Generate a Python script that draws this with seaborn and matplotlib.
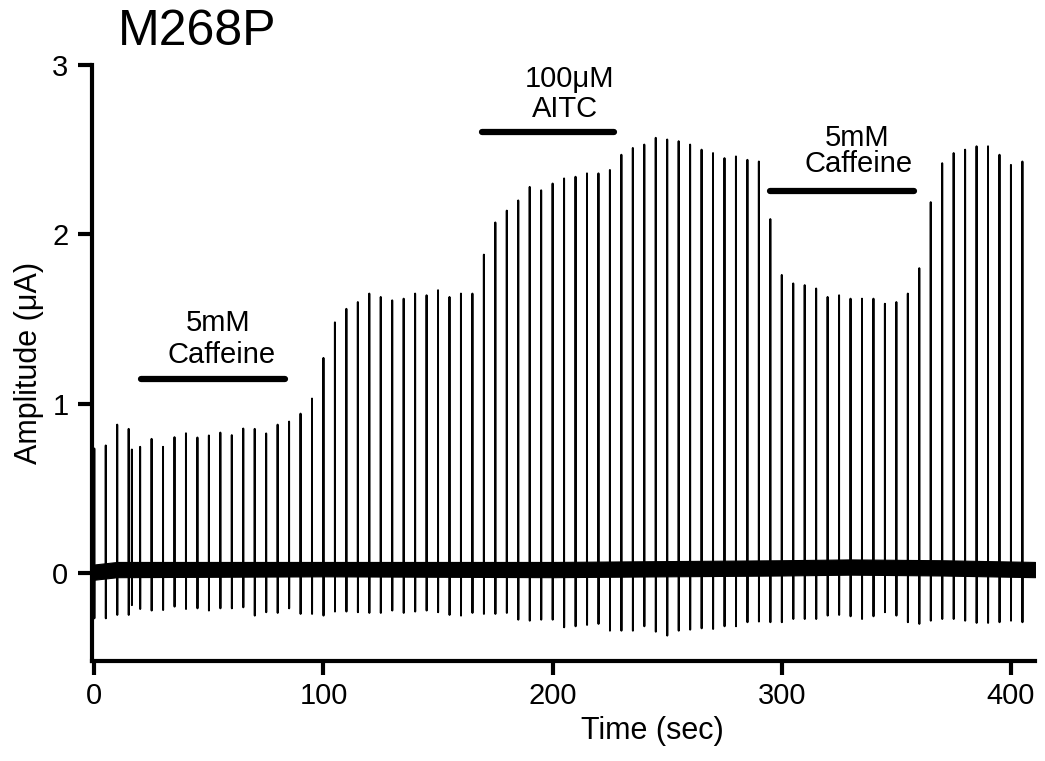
import numpy as np
import pandas as pd
import matplotlib
matplotlib.use("Agg")
import matplotlib.pyplot as plt
import seaborn as sns

# ---------------- data ----------------
spike_times = list(range(0, 410, 5))          # stimulus every 5 s
spike_peaks = [0.735, 0.753, 0.876, 0.851, 0.745, 0.792, 0.745, 0.802, 0.825, 0.800,
               0.812, 0.829, 0.814, 0.853, 0.851, 0.824, 0.876, 0.894, 0.941, 1.03,
               1.27, 1.48, 1.56, 1.60, 1.65, 1.63, 1.61, 1.62, 1.65, 1.64,
               1.67, 1.63, 1.65, 1.65, 1.88, 2.07, 2.14, 2.20, 2.28, 2.26,
               2.30, 2.33, 2.34, 2.36, 2.36, 2.38, 2.47, 2.51, 2.53, 2.57,
               2.56, 2.55, 2.53, 2.50, 2.48, 2.45, 2.46, 2.44, 2.43, 2.09,
               1.76, 1.71, 1.70, 1.68, 1.63, 1.64, 1.62, 1.62, 1.62, 1.59,
               1.60, 1.65, 1.80, 2.19, 2.42, 2.48, 2.50, 2.52, 2.52, 2.47,
               2.41, 2.43]
spike_troughs = [-0.268, -0.268, -0.248, -0.248, -0.213, -0.222, -0.219, -0.199, -0.213, -0.209,
                 -0.222, -0.209, -0.209, -0.203, -0.252, -0.232, -0.236, -0.209, -0.242, -0.242,
                 -0.252, -0.228, -0.228, -0.232, -0.236, -0.236, -0.222, -0.236, -0.228, -0.222,
                 -0.232, -0.248, -0.252, -0.236, -0.242, -0.242, -0.236, -0.276, -0.282, -0.276,
                 -0.276, -0.321, -0.315, -0.307, -0.301, -0.341, -0.341, -0.341, -0.315, -0.347,
                 -0.370, -0.341, -0.335, -0.327, -0.331, -0.315, -0.315, -0.291, -0.287, -0.291,
                 -0.291, -0.272, -0.272, -0.272, -0.252, -0.248, -0.256, -0.272, -0.256, -0.232,
                 -0.252, -0.291, -0.301, -0.282, -0.272, -0.272, -0.282, -0.295, -0.295, -0.291,
                 -0.282, -0.291]
extra_time = [16.4]
extra_peak = [0.729]
extra_trough = [-0.19]

# baseline noise band (edges read at a few times)
band_times = [0, 10, 100, 200, 300, 330, 370, 410.5]
band_top = [0.05, 0.065, 0.065, 0.065, 0.075, 0.08, 0.075, 0.065]
band_bottom = [-0.04, -0.025, -0.02, -0.025, -0.015, -0.01, -0.015, -0.025]

# drug application bars
bar_start = [20.5, 169.3, 294.8]
bar_end = [83.3, 226.6, 357.6]
bar_level = [1.146, 2.607, 2.255]
label_line1 = ["5mM", "100\u03bcM", "5mM"]
label_line2 = ["Caffeine", "AITC", "Caffeine"]
label_x1 = [54.0, 207.4, 333.0]
label_x2 = [55.5, 205.2, 333.6]
label_y1 = [1.431, 2.869, 2.524]
label_y2 = [1.240, 2.692, 2.367]

x_ticks = [0, 100, 200, 300, 400]
y_ticks = [0, 1, 2, 3]

# ---------------- build the trace ----------------
rows = []
all_t = spike_times + extra_time
all_p = spike_peaks + extra_peak
all_n = spike_troughs + extra_trough
order = np.argsort(all_t)
rows.append((-0.5, 0.02))
for i in order:
    t, p, n = all_t[i], all_p[i], all_n[i]
    rows += [(t - 0.02, 0.02), (t, p), (t + 0.03, n), (t + 0.06, 0.02)]
rows.append((410.5, 0.02))
trace = pd.DataFrame(rows, columns=["time", "amp"])

# ---------------- plot ----------------
sns.set_style("ticks")
plt.rcParams['font.family'] = ['Liberation Sans', 'DejaVu Sans']
plt.rcParams.update({"text.color": "black", "axes.labelcolor": "black",
                     "xtick.color": "black", "ytick.color": "black",
                     "axes.edgecolor": "black"})

fig = plt.figure(figsize=(10.45, 7.61), dpi=100)
ax = fig.add_axes([92 / 1045, 1 - 661 / 761, (1035 - 92) / 1045, (661 - 65) / 761])

ax.fill_between(band_times, band_bottom, band_top, color="black", lw=0.8)
sns.lineplot(data=trace, x="time", y="amp", ax=ax, color="black",
             linewidth=1.4, estimator=None, sort=False)

for s, e, lv in zip(bar_start, bar_end, bar_level):
    ax.plot([s, e], [lv, lv], color="black", lw=4.5, solid_capstyle="round")
for x1, y1, t1, x2, y2, t2 in zip(label_x1, label_y1, label_line1,
                                  label_x2, label_y2, label_line2):
    ax.text(x1, y1, t1, ha="center", va="baseline", fontsize=21, color="black")
    ax.text(x2, y2, t2, ha="center", va="baseline", fontsize=21, color="black")

ax.set_xlim(-1, 410.5)
ax.set_ylim(-0.52, 3.0)
ax.set_xticks(x_ticks)
ax.set_yticks(y_ticks)
ax.tick_params(axis="both", direction="out", length=10, width=3, labelsize=21,
               pad=5, color="black", labelcolor="black")
ax.tick_params(axis="y", pad=7)
sns.despine(ax=ax)
for sp in ["left", "bottom"]:
    ax.spines[sp].set_linewidth(3)
    ax.spines[sp].set_color("black")

ax.set_xlabel("Time (sec)", fontsize=22, color="black")
ax.set_ylabel("Amplitude (\u03bcA)", fontsize=22, color="black")
ax.xaxis.set_label_coords((652 - 92) / (1035 - 92), -0.092)
ax.yaxis.set_label_coords(-0.051, 0.5)

fig.text(118 / 1045, 1 - 45 / 761, "M268P", fontsize=36, va="baseline", ha="left",
         color="black")

fig.savefig("out.png", dpi=100)
